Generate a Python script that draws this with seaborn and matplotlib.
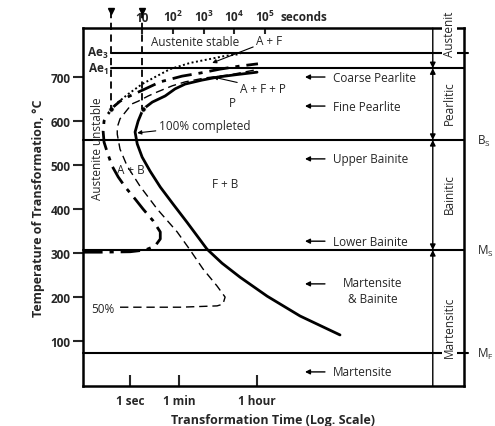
import numpy as np
import matplotlib
matplotlib.use("Agg")
import matplotlib.pyplot as plt
from matplotlib.ticker import FixedLocator, NullLocator
import seaborn as sns

sns.set_theme(style="white")
plt.rcParams["font.family"] = ["Open Sans", "DejaVu Sans"]
plt.rcParams["mathtext.default"] = "regular"

# critical temperatures, deg C
crit_names = ["Ae$_3$", "Ae$_1$", "B$_S$", "M$_S$", "M$_F$"]
crit_temps = [755, 720, 557, 307, 73]

# curves: log10(time in s) and temperature (deg C)
# start of transformation (dash-dot)
start_log_t = [-0.92, -0.37, 0.61, 1.10, 1.42, 1.59, 1.59, 1.36, 1.03, 0.77, 0.45,
               0.22, 0.02, -0.14, -0.24, -0.27, -0.24, -0.11, 0.06, 0.28, 0.54,
               1.10, 1.59, 2.30, 2.89, 3.54, 4.19, 4.77]
start_temp = [302, 302, 303, 307, 316, 332, 348, 373, 400, 423, 450,
              473, 498, 530, 552, 577, 600, 616, 632, 645, 655,
              673, 689, 702, 709, 718, 725, 730]

# ferrite start, A + F (dotted)
ferrite_log_t = [0.0, 0.22, 0.54, 1.00, 1.42, 1.91, 2.56, 3.21, 3.70, 4.19]
ferrite_temp = [627, 643, 661, 684, 700, 718, 732, 741, 748, 752]

# 50 % transformed (thin dashed)
half_log_t = [0.28, 2.24, 3.44, 3.63, 3.70, 3.44, 2.98, 2.56, 2.14, 1.49, 0.93,
              0.51, 0.28, 0.19, 0.19, 0.28, 0.45, 0.67, 0.87, 1.20, 1.49,
              1.98, 2.40, 3.05, 3.86, 4.67]
half_temp = [177, 177, 180, 184, 200, 225, 264, 307, 348, 400, 452,
             498, 536, 570, 586, 605, 620, 639, 645, 657, 666,
             680, 689, 698, 705, 716]

# 100 % completed (solid)
finish_log_t = [7.44, 6.14, 5.07, 4.19, 3.60, 3.11, 2.46, 2.01, 1.59, 1.26, 1.00,
                0.84, 0.77, 0.87, 1.03, 1.33, 1.75, 2.07, 2.40, 2.95, 3.47,
                4.02, 4.74]
finish_temp = [114, 157, 202, 245, 277, 309, 370, 411, 450, 486, 518,
               548, 575, 600, 627, 643, 657, 673, 684, 693, 700,
               705, 711]

# dashed guides at 1 s and 10 s
guide_times = [1, 10]
guide_temps = [850, 627]

top_ticks = [10, 1e2, 1e3, 1e4, 1e5]
top_labels = ["10", "10$^2$", "10$^3$", "10$^4$", "10$^5$"]
bottom_labels = ["1 sec", "1 min", "1 hour"]
bottom_ticks = [10 ** 0.61, 10 ** 2.20, 10 ** 4.74]

zone_names = ["Coarse Pearlite", "Fine Pearlite", "Upper Bainite",
              "Lower Bainite", "Martensite\n& Bainite", "Martensite"]
zone_temps = [700, 634, 514, 327, 230, 30]

fs = 8.5
x_left, x_right = 10 ** -0.92, 10 ** 11.47
y_bot, y_top = -2, 811

fig = plt.figure(figsize=(4.95, 4.27), dpi=100)
ax = fig.add_axes([0.168, 0.0937, 0.769, 0.838])
ax.set_xscale("log")
ax.set_xlim(x_left, x_right)
ax.set_ylim(y_bot, y_top)

curves = [
    (start_log_t, start_temp, dict(lw=2.0, linestyle=(0, (7, 2.5, 1.5, 2.5)))),
    (ferrite_log_t, ferrite_temp, dict(lw=1.4, linestyle=(0, (1, 1.3)),
                                       marker="o", markevery=[0], ms=4)),
    (half_log_t, half_temp, dict(lw=1.0, linestyle=(0, (6, 3.5)))),
    (finish_log_t, finish_temp, dict(lw=2.0, linestyle="-",
                                     marker="o", markevery=[14], ms=4)),
]
for log_t, temp, kw in curves:
    sns.lineplot(x=10 ** np.array(log_t), y=temp, sort=False, estimator=None,
                 color="black", ax=ax, **kw)

# critical temperature lines
for name, temp in zip(crit_names, crit_temps):
    start = guide_times[0] if name.startswith("Ae") else x_left
    end = x_right * 10 ** 0.12 if name in ("Ae$_3$", "M$_F$") else x_right
    ax.plot([start, end], [temp, temp], color="black", lw=1.5, clip_on=False, zorder=2)
    if name.startswith("Ae"):
        ax.text(10 ** -0.1, temp, name, ha="right", va="center",
                fontsize=fs, fontweight="bold")
    else:
        ax.text(10 ** 11.9, temp, name, ha="left", va="center", fontsize=fs)

for t in guide_times:
    ax.plot([t, t], guide_temps, color="black", lw=1.3, linestyle=(0, (4, 2.5)),
            clip_on=False)
    ax.plot([t], [guide_temps[0]], marker="v", color="black", ms=4, clip_on=False)

# range arrows on the right
ax_x = 10 ** 10.46
spans = [(y_top, crit_temps[1], "-|>"), (crit_temps[1], crit_temps[2], "<|-|>"),
         (crit_temps[2], crit_temps[3], "<|-|>"), (y_bot, crit_temps[3], "-|>")]
for y0, y1, style in spans:
    ax.annotate("", xy=(ax_x, y1), xytext=(ax_x, y0),
                arrowprops=dict(arrowstyle=style, color="black", lw=1.0,
                                mutation_scale=8, shrinkA=0, shrinkB=0))

for name, y in zip(["Austenit", "Pearlitic", "Bainitic", "Martensitic"],
                   [800, 643, 436, 134]):
    ax.text(10 ** 11.0, y, name, rotation=90, ha="center", va="center", fontsize=fs,
            bbox=dict(facecolor="white", edgecolor="none", pad=0.5), zorder=4)

# zone labels with arrows
for name, y in zip(zone_names, zone_temps):
    ax.annotate("", xy=(10 ** 6.3, y), xytext=(10 ** 6.95, y),
                arrowprops=dict(arrowstyle="-|>", color="black", lw=1.0,
                                mutation_scale=7, shrinkA=0, shrinkB=0))
    if "\n" in name:
        ax.text(10 ** 8.5, y - 14, name, ha="center", va="center", fontsize=fs,
                linespacing=1.3)
    else:
        ax.text(10 ** 7.2, y, name, ha="left", va="center", fontsize=fs)

# in-plot annotations
ax.text(10 ** 2.72, 781, "Austenite stable", ha="center", va="center", fontsize=fs)
ax.text(10 ** -0.46, 540, "Austenite unstable", rotation=90, ha="center",
        va="center", fontsize=fs)
ax.text(10 ** 3.93, 643, "P", ha="center", va="center", fontsize=fs)
ax.text(10 ** 3.70, 457, "F + B", ha="center", va="center", fontsize=fs)
ax.text(10 ** 0.64, 491, "A + B", ha="center", va="center", fontsize=fs)
ax.text(10 ** -0.27, 175, "50%", ha="center", va="center", fontsize=fs)
arrow_kw = dict(arrowstyle="-|>", color="black", lw=0.8, mutation_scale=6,
                shrinkA=0, shrinkB=0)
ax.annotate("A + F", xy=(10 ** 3.28, 732), xytext=(10 ** 4.72, 768),
            ha="left", va="bottom", fontsize=fs, arrowprops=arrow_kw)
ax.annotate("A + F + P", xy=(10 ** 3.31, 700), xytext=(10 ** 4.2, 689),
            ha="left", va="top", fontsize=fs, arrowprops=arrow_kw)
ax.annotate("100% completed", xy=(10 ** 0.84, 573), xytext=(10 ** 1.55, 590),
            ha="left", va="center", fontsize=fs, arrowprops=arrow_kw)

# axes styling
for sp in ax.spines.values():
    sp.set_color("black")
    sp.set_linewidth(1.8)
ax.set_yticks([100, 200, 300, 400, 500, 600, 700])
ax.xaxis.set_major_locator(FixedLocator(bottom_ticks))
ax.xaxis.set_minor_locator(NullLocator())
ax.set_xticklabels(bottom_labels)
ax.tick_params(axis="x", direction="in", length=8, width=1.5, pad=6,
               labelsize=fs, bottom=True)
ax.tick_params(axis="y", direction="out", length=7, width=1.5, pad=2,
               labelsize=fs, left=True)
for lab in ax.get_xticklabels() + ax.get_yticklabels():
    lab.set_fontweight("bold")

top = ax.secondary_xaxis("top")
top.xaxis.set_major_locator(FixedLocator(top_ticks))
top.xaxis.set_minor_locator(NullLocator())
top.set_xticklabels(top_labels)
top.tick_params(direction="in", length=4, width=1.5, pad=3, labelsize=fs)
for lab in top.get_xticklabels():
    lab.set_fontweight("bold")
top.spines["top"].set_visible(False)
ax.text(10 ** 5.5, 1.015, "seconds", transform=ax.get_xaxis_transform(),
        ha="left", va="bottom", fontsize=fs, fontweight="bold")

ax.set_xlabel("Transformation Time (Log. Scale)", fontsize=9, fontweight="bold",
              labelpad=4)
ax.set_ylabel("Temperature of Transformation, \u00b0C", fontsize=9,
              fontweight="bold", labelpad=4)

fig.savefig("out.png", dpi=100)
